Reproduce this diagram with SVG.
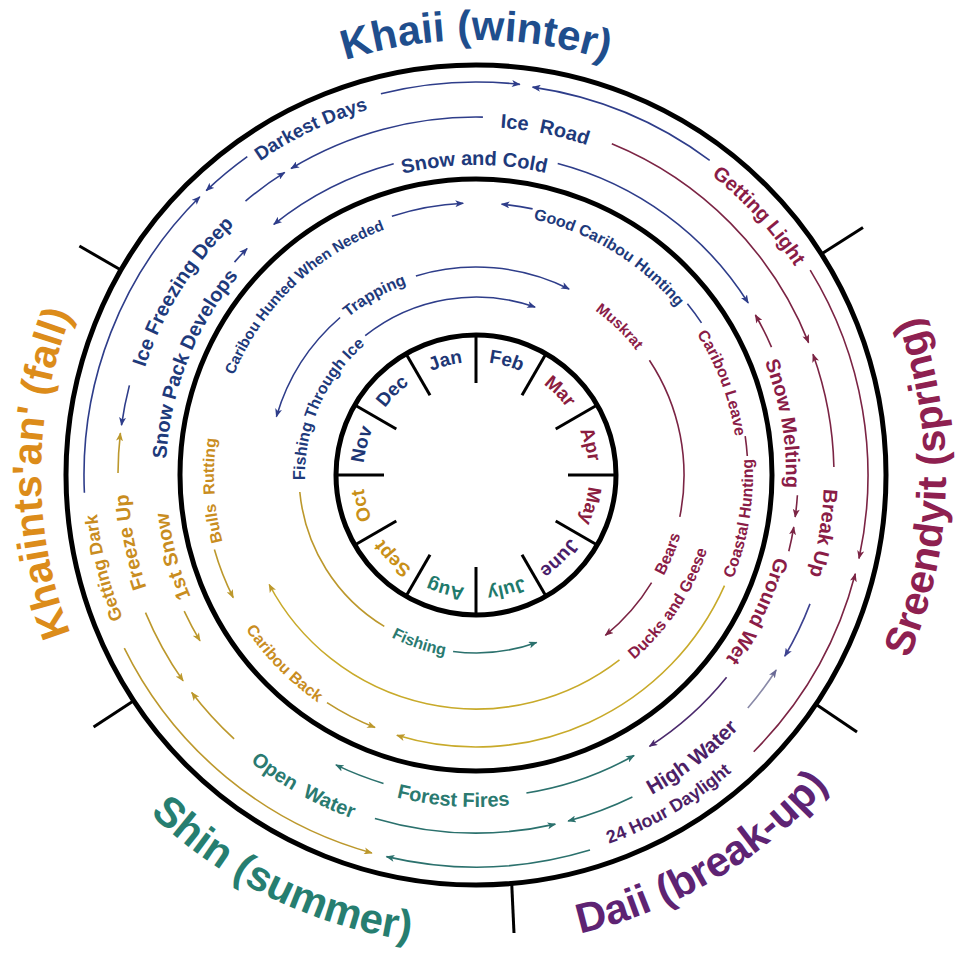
<svg xmlns="http://www.w3.org/2000/svg" width="960" height="956" viewBox="0 0 960 956">
<style>
text{font-family:"Liberation Sans",Arial,sans-serif;font-weight:bold;text-anchor:middle}
.ring{fill:none;stroke:#000;stroke-width:5}
.tick{stroke:#000;stroke-width:3}
.c{fill:none;stroke-width:1.6}
.sb{stroke:#2e3d8a}.sm{stroke:#7b2444}.sg{stroke:#bc982c}.sy{stroke:#c8aa2a}.st{stroke:#2b716d}.sp{stroke:#4b2a6d}.sx{stroke:#8a8aa8}.sv{stroke:#3d4290}
.tb{fill:#1e3a7b}.tm{fill:#8a1c47}.tg{fill:#c98d1f}.tt{fill:#2a7a70}.tp{fill:#4d1f66}
.l18{font-size:18px}.l19{font-size:19px}.l20{font-size:20px}.l21{font-size:21px}.l16{font-size:16px}.l15{font-size:15px}
.mo{font-size:19px}
.ti{font-size:42px}
</style>
<defs>
<marker id="mb" viewBox="0 0 10 8" refX="9" refY="4" markerWidth="9" markerHeight="7" markerUnits="userSpaceOnUse" orient="auto"><path d="M0,0 L10,4 L0,8 L2.5,4 z" fill="#2e3d8a"/></marker>
<marker id="mm" viewBox="0 0 10 8" refX="9" refY="4" markerWidth="9" markerHeight="7" markerUnits="userSpaceOnUse" orient="auto"><path d="M0,0 L10,4 L0,8 L2.5,4 z" fill="#7b2444"/></marker>
<marker id="mg" viewBox="0 0 10 8" refX="9" refY="4" markerWidth="9" markerHeight="7" markerUnits="userSpaceOnUse" orient="auto"><path d="M0,0 L10,4 L0,8 L2.5,4 z" fill="#bc982c"/></marker>
<marker id="mt" viewBox="0 0 10 8" refX="9" refY="4" markerWidth="9" markerHeight="7" markerUnits="userSpaceOnUse" orient="auto"><path d="M0,0 L10,4 L0,8 L2.5,4 z" fill="#2b716d"/></marker>
<marker id="mp" viewBox="0 0 10 8" refX="9" refY="4" markerWidth="9" markerHeight="7" markerUnits="userSpaceOnUse" orient="auto"><path d="M0,0 L10,4 L0,8 L2.5,4 z" fill="#4b2a6d"/></marker>
<marker id="mx" viewBox="0 0 10 8" refX="9" refY="4" markerWidth="9" markerHeight="7" markerUnits="userSpaceOnUse" orient="auto"><path d="M0,0 L10,4 L0,8 L2.5,4 z" fill="#6a6a96"/></marker>
<marker id="mv" viewBox="0 0 10 8" refX="9" refY="4" markerWidth="9" markerHeight="7" markerUnits="userSpaceOnUse" orient="auto"><path d="M0,0 L10,4 L0,8 L2.5,4 z" fill="#3d4290"/></marker>
<path id="cw435" d="M476,910 A435,435 0 1,1 476,40 A435,435 0 1,1 476,910"/>
<path id="cw381" d="M476,856 A381,381 0 1,1 476,94 A381,381 0 1,1 476,856"/>
<path id="cw348" d="M476,823 A348,348 0 1,1 476,127 A348,348 0 1,1 476,823"/>
<path id="cw310" d="M476,785 A310,310 0 1,1 476,165 A310,310 0 1,1 476,785"/>
<path id="cw262" d="M476,737 A262,262 0 1,1 476,213 A262,262 0 1,1 476,737"/>
<path id="cw203" d="M476,678 A203,203 0 1,1 476,272 A203,203 0 1,1 476,678"/>
<path id="cw171" d="M476,646 A171,171 0 1,1 476,304 A171,171 0 1,1 476,646"/>
<path id="cw113" d="M476,588 A113,113 0 1,1 476,362 A113,113 0 1,1 476,588"/>
<path id="ccw470" d="M476,5 A470,470 0 1,0 476,945 A470,470 0 1,0 476,5"/>
<path id="ccw392" d="M476,83 A392,392 0 1,0 476,867 A392,392 0 1,0 476,83"/>
<path id="ccw365" d="M476,110 A365,365 0 1,0 476,840 A365,365 0 1,0 476,110"/>
<path id="ccw332" d="M476,143 A332,332 0 1,0 476,807 A332,332 0 1,0 476,143"/>
<path id="ccw277" d="M476,198 A277,277 0 1,0 476,752 A277,277 0 1,0 476,198"/>
<path id="ccw243" d="M476,232 A243,243 0 1,0 476,718 A243,243 0 1,0 476,232"/>
<path id="ccw213" d="M476,262 A213,213 0 1,0 476,688 A213,213 0 1,0 476,262"/>
<path id="ccw183" d="M476,292 A183,183 0 1,0 476,658 A183,183 0 1,0 476,292"/>
</defs>
<rect width="960" height="956" fill="#fff"/>

<g id="frame">
<circle class="ring" cx="476" cy="475" r="410"/>
<circle class="ring" cx="476" cy="475" r="296"/>
<circle class="ring" cx="476" cy="475" r="140"/>
<line class="tick" x1="120.9" y1="270" x2="79.4" y2="246"/>
<line class="tick" x1="821.4" y1="254.1" x2="863" y2="227.5"/>
<line class="tick" x1="815.9" y1="704.3" x2="857" y2="732"/>
<line class="tick" x1="511.7" y1="883.4" x2="514" y2="933"/>
<line class="tick" x1="133.7" y1="700.7" x2="93.6" y2="727.1"/>
<line class="tick" x1="616" y1="475" x2="568" y2="475"/>
<line class="tick" x1="597.2" y1="405" x2="555.7" y2="429"/>
<line class="tick" x1="546" y1="353.8" x2="522" y2="395.3"/>
<line class="tick" x1="476" y1="335" x2="476" y2="383"/>
<line class="tick" x1="406" y1="353.8" x2="430" y2="395.3"/>
<line class="tick" x1="354.8" y1="405" x2="396.3" y2="429"/>
<line class="tick" x1="336" y1="475" x2="384" y2="475"/>
<line class="tick" x1="354.8" y1="545" x2="396.3" y2="521"/>
<line class="tick" x1="406" y1="596.2" x2="430" y2="554.7"/>
<line class="tick" x1="476" y1="615" x2="476" y2="567"/>
<line class="tick" x1="546" y1="596.2" x2="522" y2="554.7"/>
<line class="tick" x1="597.2" y1="545" x2="555.7" y2="521"/>
</g>

<g id="months">
<g id="m-jan"><text class="mo" fill="#1d3674" transform="rotate(-15 476 475)"><textPath href="#cw113" startOffset="50%">Jan</textPath></text></g>
<g id="m-feb"><text class="mo" fill="#1d3674" transform="rotate(15 476 475)"><textPath href="#cw113" startOffset="50%">Feb</textPath></text></g>
<g id="m-mar"><text class="mo" fill="#8b1d40" transform="rotate(45 476 475)"><textPath href="#cw113" startOffset="50%">Mar</textPath></text></g>
<g id="m-apr"><text class="mo" fill="#8b1d40" transform="rotate(75 476 475)"><textPath href="#cw113" startOffset="50%">Apr</textPath></text></g>
<g id="m-may"><text class="mo" fill="#8b1d40" transform="rotate(105 476 475)"><textPath href="#cw113" startOffset="50%">May</textPath></text></g>
<g id="m-june"><text class="mo" fill="#4a1d6a" transform="rotate(135 476 475)"><textPath href="#cw113" startOffset="50%">June</textPath></text></g>
<g id="m-july"><text class="mo" fill="#1f7a6c" transform="rotate(165 476 475)"><textPath href="#cw113" startOffset="50%">July</textPath></text></g>
<g id="m-aug"><text class="mo" fill="#1f7a6c" transform="rotate(195 476 475)"><textPath href="#cw113" startOffset="50%">Aug</textPath></text></g>
<g id="m-sept"><text class="mo" fill="#c99018" transform="rotate(225 476 475)"><textPath href="#cw113" startOffset="50%">Sept</textPath></text></g>
<g id="m-oct"><text class="mo" fill="#c99018" transform="rotate(255 476 475)"><textPath href="#cw113" startOffset="50%">Oct</textPath></text></g>
<g id="m-nov"><text class="mo" fill="#1d3674" transform="rotate(-75 476 475)"><textPath href="#cw113" startOffset="50%">Nov</textPath></text></g>
<g id="m-dec"><text class="mo" fill="#1d3674" transform="rotate(-45 476 475)"><textPath href="#cw113" startOffset="50%">Dec</textPath></text></g>
</g>

<g id="connectors">
<path class="c sb" d="M84.4,492.8 A392,392 0 0,1 199.8,196.8" marker-end="url(#mb)"/>
<path class="c sb" d="M247.3,156.7 A392,392 0 0,0 206.2,190.7" marker-end="url(#mb)"/>
<path class="c sb" d="M380.9,93.7 A393,393 0 0,1 519.8,84.4" marker-end="url(#mb)"/>
<path class="c sb" d="M709.7,160.3 A392,392 0 0,0 532.6,87.1" marker-end="url(#mb)"/>
<path class="c sm" d="M810.2,270.2 A392,392 0 0,1 859.0,558.5" marker-end="url(#mm)"/>
<path class="c sm" d="M753.7,751.7 A392,392 0 0,0 855.3,573.8" marker-end="url(#mm)"/>
<path class="c st" d="M590.0,850.1 A392,392 0 0,1 386.5,856.6" marker-end="url(#mt)"/>
<path class="c sg" d="M124.3,648.1 A392,392 0 0,0 371.9,852.9" marker-end="url(#mg)"/>
<path class="c sb" d="M482.9,117.1 A358,358 0 0,0 291.1,168.5" marker-end="url(#mb)"/>
<path class="c sb" d="M245.5,201.1 A358,358 0 0,1 284.7,172.4" marker-end="url(#mb)"/>
<path class="c sb" d="M129.4,385.4 A358,358 0 0,0 121.5,425.2" marker-end="url(#mb)"/>
<path class="c sg" d="M118.0,473.1 A358,358 0 0,1 120.4,433.2" marker-end="url(#mg)"/>
<path class="c sg" d="M145.5,612.6 A358,358 0 0,0 183.1,680.9" marker-end="url(#mg)"/>
<path class="c sg" d="M234.1,738.9 A358,358 0 0,1 191.7,692.5" marker-end="url(#mg)"/>
<path class="c st" d="M374.9,818.4 A358,358 0 0,0 555.3,824.1" marker-end="url(#mt)"/>
<path class="c st" d="M632.4,797.0 A358,358 0 0,1 568.1,821.0" marker-end="url(#mt)"/>
<path class="c sx" d="M747.8,708.0 A358,358 0 0,0 776.2,670.0" marker-end="url(#mx)"/>
<path class="c sv" d="M810.0,603.9 A358,358 0 0,1 784.8,656.2" marker-end="url(#mv)"/>
<path class="c sm" d="M833.9,466.9 A358,358 0 0,0 813.0,354.3" marker-end="url(#mm)"/>
<path class="c sm" d="M611.8,143.8 A358,358 0 0,1 808.6,342.6" marker-end="url(#mm)"/>
<path class="c sb" d="M393.7,163.7 A322,322 0 0,0 273.8,224.4" marker-end="url(#mb)"/>
<path class="c sb" d="M234.5,262.1 A322,322 0 0,1 247.1,248.5" marker-end="url(#mb)"/>
<path class="c sg" d="M184.2,611.1 A322,322 0 0,0 200.0,640.8" marker-end="url(#mg)"/>
<path class="c st" d="M383.5,783.4 A322,322 0 0,1 335.9,764.9" marker-end="url(#mt)"/>
<path class="c st" d="M526.4,793.0 A322,322 0 0,0 634.1,755.5" marker-end="url(#mt)"/>
<path class="c sp" d="M726.6,677.2 A322,322 0 0,1 649.5,746.3" marker-end="url(#mp)"/>
<path class="c sm" d="M788.8,551.3 A322,322 0 0,0 793.8,527.0" marker-end="url(#mm)"/>
<path class="c sm" d="M797.4,495.2 A322,322 0 0,1 795.2,517.0" marker-end="url(#mm)"/>
<path class="c sm" d="M771.5,347.1 A322,322 0 0,0 755.4,315.0" marker-end="url(#mm)"/>
<path class="c sb" d="M557.7,163.5 A322,322 0 0,1 748.2,302.9" marker-end="url(#mb)"/>
<path class="c sb" d="M391.9,216.3 A272,272 0 0,1 463.2,203.3" marker-end="url(#mb)"/>
<path class="c sb" d="M532.6,208.9 A272,272 0 0,0 501.6,204.2" marker-end="url(#mb)"/>
<path class="c sb" d="M687.4,303.8 A272,272 0 0,1 701.5,322.9"/>
<path class="c sm" d="M745.2,436.2 A272,272 0 0,1 747.3,456.0"/>
<path class="c sy" d="M724.5,585.6 A272,272 0 0,1 396.9,735.3" marker-end="url(#mg)"/>
<path class="c sg" d="M327.0,702.6 A272,272 0 0,0 375.0,727.5" marker-end="url(#mg)"/>
<path class="c sg" d="M214.4,549.5 A272,272 0 0,0 233.2,597.6" marker-end="url(#mg)"/>
<path class="c sy" d="M619.5,659.9 A234,234 0 0,1 269.2,584.5" marker-end="url(#mg)"/>
<path class="c sb" d="M415.9,275.9 A208,208 0 0,1 569.1,289.0" marker-end="url(#mb)"/>
<path class="c sb" d="M340.1,317.5 A208,208 0 0,0 276.4,416.6" marker-end="url(#mb)"/>
<path class="c sm" d="M649.4,360.2 A208,208 0 0,1 679.8,516.8"/>
<path class="c sm" d="M651.6,582.6 A206,206 0 0,1 605.4,635.3" marker-end="url(#mm)"/>
<path class="c sb" d="M365.2,335.7 A178,178 0 0,1 535.1,307.1" marker-end="url(#mb)"/>
<path class="c sg" d="M299.8,492.0 A177,177 0 0,0 384.3,626.4"/>
<path class="c st" d="M453.1,651.5 A178,178 0 0,0 536.6,642.4" marker-end="url(#mt)"/>
</g>

<g id="titles">
<g id="t-winter"><text class="ti" fill="#1f4e8d"><textPath href="#cw435" startOffset="50%">Khaii (winter)</textPath></text></g>
<g id="t-spring"><text class="ti" fill="#8e2050" style="font-size:41px" transform="rotate(-88.4 476 475)"><textPath href="#ccw470" startOffset="50%">Sreendyit (spring)</textPath></text></g>
<g id="t-breakup"><text class="ti" fill="#5e2373" transform="rotate(-30.7 476 475)"><textPath href="#ccw470" startOffset="50%">Daii (break-up)</textPath></text></g>
<g id="t-summer"><text class="ti" fill="#267e70" transform="rotate(26 476 475)"><textPath href="#ccw470" startOffset="50%">Shin (summer)</textPath></text></g>
<g id="t-fall"><text class="ti" fill="#dc8c1a" style="font-size:41px" transform="rotate(-89.8 476 475)"><textPath href="#cw435" startOffset="50%">Khaiints'an' (fall)</textPath></text></g>
</g>

<g id="labels">
<g id="darkest-days"><text class="l19 tb" transform="rotate(-25.5 476 475)"><textPath href="#cw381" startOffset="50%">Darkest Days</textPath></text></g>
<g id="getting-light"><text class="l20 tm" transform="rotate(47.5 476 475)"><textPath href="#cw381" startOffset="50%">Getting Light</textPath></text></g>
<g id="getting-dark"><text class="l18 tg" transform="rotate(-104 476 475)"><textPath href="#cw381" startOffset="50%">Getting Dark</textPath></text></g>
<g id="hour-daylight"><text class="l18 tp" transform="rotate(-30.3 476 475)"><textPath href="#ccw392" startOffset="50%">24 Hour Daylight</textPath></text></g>
<g id="ice-road"><text class="l20 tb" transform="rotate(11.3 476 475)"><textPath href="#cw348" startOffset="50%">Ice&#160; Road</textPath></text></g>
<g id="ice-freezing"><text class="l20 tb" transform="rotate(-58 476 475)"><textPath href="#cw348" startOffset="50%">Ice Freezing Deep</textPath></text></g>
<g id="freeze-up"><text class="l20 tg" transform="rotate(-101 476 475)"><textPath href="#cw348" startOffset="50%">Freeze Up</textPath></text></g>
<g id="open-water"><text class="l20 tt" transform="rotate(29 476 475)"><textPath href="#ccw365" startOffset="50%">Open&#160; Water</textPath></text></g>
<g id="high-water"><text class="l21 tp" transform="rotate(-37.4 476 475)"><textPath href="#ccw365" startOffset="50%">High Water</textPath></text></g>
<g id="break-up"><text class="l20 tm" transform="rotate(99.5 476 475)"><textPath href="#cw348" startOffset="50%">Break Up</textPath></text></g>
<g id="snow-cold"><text class="l20 tb" transform="rotate(-0.3 476 475)"><textPath href="#cw310" startOffset="50%">Snow and Cold</textPath></text></g>
<g id="snow-pack"><text class="l20 tb" transform="rotate(-68.5 476 475)"><textPath href="#cw310" startOffset="50%">Snow Pack Develops</textPath></text></g>
<g id="first-snow"><text class="l20 tg" transform="rotate(-105 476 475)"><textPath href="#cw310" startOffset="50%">1st Snow</textPath></text></g>
<g id="forest-fires"><text class="l20 tt" transform="rotate(4 476 475)"><textPath href="#ccw332" startOffset="50%">Forest Fires</textPath></text></g>
<g id="ground-wet"><text class="l20 tm" transform="rotate(115.8 476 475)"><textPath href="#cw310" startOffset="50%">Ground Wet</textPath></text></g>
<g id="snow-melting"><text class="l20 tm" transform="rotate(80.5 476 475)"><textPath href="#cw310" startOffset="50%">Snow Melting</textPath></text></g>
<g id="good-caribou"><text class="l16 tb" transform="rotate(31.4 476 475)"><textPath href="#cw262" startOffset="50%">Good Caribou Hunting</textPath></text></g>
<g id="caribou-needed"><text class="l15 tb" transform="rotate(-44 476 475)"><textPath href="#cw262" startOffset="50%">Caribou Hunted When Needed</textPath></text></g>
<g id="caribou-leave"><text class="l16 tm" transform="rotate(69.5 476 475)"><textPath href="#cw262" startOffset="50%">Caribou Leave</textPath></text></g>
<g id="coastal-hunting"><text class="l16 tm" transform="rotate(-80.7 476 475)"><textPath href="#ccw277" startOffset="50%">Coastal Hunting</textPath></text></g>
<g id="bulls-rutting"><text class="l16 tg" transform="rotate(-93.4 476 475)"><textPath href="#cw262" startOffset="50%">Bulls&#160; Rutting</textPath></text></g>
<g id="caribou-back"><text class="l16 tg" transform="rotate(45.5 476 475)"><textPath href="#ccw277" startOffset="50%">Caribou Back</textPath></text></g>
<g id="ducks-geese"><text class="l16 tm" transform="rotate(-56.3 476 475)"><textPath href="#ccw243" startOffset="50%">Ducks and Geese</textPath></text></g>
<g id="trapping"><text class="l16 tb" transform="rotate(-29.5 476 475)"><textPath href="#cw203" startOffset="50%">Trapping</textPath></text></g>
<g id="muskrat"><text class="l15 tm" transform="rotate(44 476 475)"><textPath href="#cw203" startOffset="50%">Muskrat</textPath></text></g>
<g id="bears"><text class="l16 tm" transform="rotate(-67.7 476 475)"><textPath href="#ccw213" startOffset="50%">Bears</textPath></text></g>
<g id="fishing-ice"><text class="l16 tb" transform="rotate(-66 476 475)"><textPath href="#cw171" startOffset="50%">Fishing Through Ice</textPath></text></g>
<g id="fishing"><text class="l16 tt" transform="rotate(18.7 476 475)"><textPath href="#ccw183" startOffset="50%">Fishing</textPath></text></g>
</g>
</svg>
